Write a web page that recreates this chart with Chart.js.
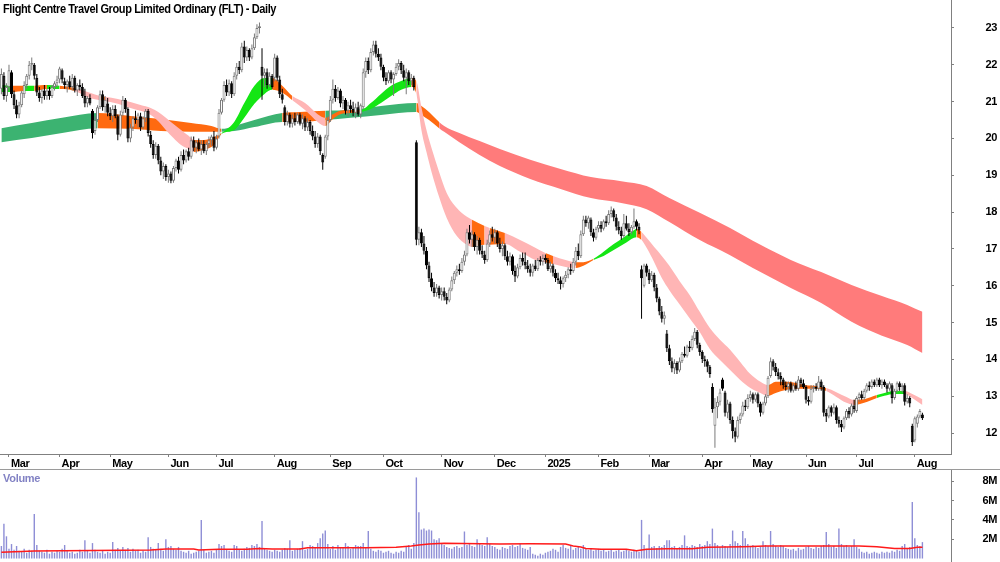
<!DOCTYPE html>
<html>
<head>
<meta charset="utf-8">
<script src="https://cdn.jsdelivr.net/npm/chart.js@4.4.1/dist/chart.umd.min.js"></script>
<style>
  html, body { margin: 0; padding: 0; background: #fff; }
  #wrap { position: relative; width: 1000px; height: 562px; overflow: hidden; font-family: "Liberation Sans", Arial, sans-serif; }
  #priceChart { position: absolute; left: 0; top: 0; }
  #volChart { position: absolute; left: 0; top: 470px; }
  .title { position: absolute; left: 3px; top: 2px; font-weight: bold; font-size: 12px; letter-spacing: -0.45px; color: #000;
           transform: scaleX(0.92); transform-origin: left top; white-space: nowrap; }
  .vlabel { position: absolute; left: 3px; top: 472px; font-weight: bold; font-size: 11px; letter-spacing: -0.3px; color: #8282c4; }
  .sep { position: absolute; left: 0; top: 469px; width: 1000px; height: 1px; background: #9a9a9a; }
</style>
</head>
<body>
<div id="wrap">
  <canvas id="priceChart" width="1000" height="470"></canvas>
  <canvas id="volChart" width="1000" height="92"></canvas>
  <div class="sep"></div>
  <div class="title">Flight Centre Travel Group Limited Ordinary (FLT) - Daily</div>
  <div class="vlabel">Volume</div>
</div>
<script>
// month ticks: index of first trading day of each month
const monthIdx = [3, 23, 43, 66, 85, 108, 130, 151, 174, 195, 215, 236, 256, 277, 296, 318, 338, 361];
const monthLabels = ['Mar', 'Apr', 'May', 'Jun', 'Jul', 'Aug', 'Sep', 'Oct', 'Nov', 'Dec', '2025', 'Feb', 'Mar', 'Apr', 'May', 'Jun', 'Jul', 'Aug'];
const priceTicks = [12, 13, 14, 15, 16, 17, 18, 19, 20, 21, 22, 23];
const volTicks = [2, 4, 6, 8];

// daily candles, 27 Feb 2024 -> early Aug 2025
const opens = [
  21.35,21.70,21.15,21.40,21.80,21.20,20.90,20.65,20.90,21.20,21.45,21.70,22.00,22.00,21.65,21.25,21.10,21.30,21.15,21.30,
  21.15,21.40,21.50,21.60,21.85,21.55,21.45,21.55,21.40,21.65,21.30,21.45,21.40,21.15,20.95,21.10,20.75,20.20,20.50,20.85,
  21.20,20.85,20.95,20.70,20.60,20.80,20.60,20.10,20.70,21.05,20.80,20.00,20.30,20.55,20.50,20.60,20.30,20.55,20.75,20.10,
  19.85,19.55,19.80,19.40,19.10,19.25,18.95,19.05,18.85,19.20,19.40,19.15,19.55,19.40,19.65,19.50,19.95,19.75,19.90,19.70,
  19.85,19.65,19.85,19.95,20.05,19.75,20.05,20.70,21.05,21.45,21.25,21.50,21.20,21.70,21.95,21.85,22.50,22.20,22.40,22.20,
  22.45,22.75,23.00,21.95,21.70,21.80,21.45,21.70,21.65,22.20,21.60,21.20,20.85,20.45,20.65,20.40,20.55,20.45,20.65,20.40,
  20.55,20.30,20.45,20.20,20.05,19.85,20.05,19.55,19.50,20.05,20.50,21.05,21.35,21.10,21.30,20.95,21.05,20.75,20.90,20.80,
  20.70,20.85,20.65,20.85,21.80,22.10,21.85,22.35,22.55,22.30,22.20,21.95,21.65,21.55,21.80,21.60,21.75,21.95,22.05,21.85,
  21.65,21.80,21.55,21.65,19.90,17.25,17.45,17.15,16.95,16.55,16.20,15.95,15.80,15.95,15.75,15.85,15.70,15.60,15.90,16.15,
  16.35,16.45,16.40,16.65,16.85,17.45,17.25,17.40,17.05,17.25,16.95,16.85,16.70,17.15,17.40,17.30,17.45,17.15,17.00,17.10,
  16.80,16.65,16.80,16.40,16.25,16.50,16.75,16.65,16.55,16.45,16.35,16.55,16.45,16.70,16.65,16.75,16.70,16.45,16.55,16.35,
  16.20,16.15,16.05,16.20,16.30,16.45,16.40,16.65,16.95,16.80,17.40,17.80,17.70,17.80,17.45,17.30,17.55,17.65,17.55,17.75,
  17.70,17.95,18.05,17.85,17.60,17.50,17.35,17.70,17.55,17.45,17.60,17.75,17.60,16.45,16.00,16.55,16.35,16.15,16.30,15.95,
  15.65,15.30,15.10,14.70,14.30,13.95,13.75,13.90,13.70,13.95,14.15,14.10,14.35,14.30,14.55,14.75,14.40,14.20,14.00,13.95,
  13.80,13.25,12.20,12.70,12.85,13.45,13.10,12.55,12.80,12.35,12.05,11.90,12.35,12.50,12.75,12.70,12.95,13.05,12.90,13.05,
  12.80,12.55,12.80,13.00,13.55,13.95,13.80,13.65,13.55,13.45,13.30,13.25,13.35,13.15,13.30,13.20,13.45,13.35,13.25,12.90,
  12.85,13.20,13.25,13.20,13.40,13.25,12.55,12.45,12.70,12.55,12.70,12.35,12.25,12.15,12.40,12.60,12.50,12.75,12.60,12.95,
  13.05,12.95,13.15,13.30,13.25,13.40,13.30,13.45,13.30,13.40,13.30,13.20,13.30,12.95,13.15,13.35,13.25,13.30,12.85,12.95,
  12.20,11.80,12.25,12.45,12.50
];
const highs = [
  21.90,21.80,21.50,22.00,21.85,21.30,21.05,21.00,21.30,21.55,21.75,22.10,22.20,22.05,21.75,21.40,21.35,21.45,21.35,21.40,
  21.45,21.55,21.70,21.95,21.90,21.65,21.60,21.70,21.75,21.70,21.50,21.60,21.50,21.35,21.15,21.20,20.80,20.60,20.90,21.30,
  21.30,21.15,21.10,20.85,20.90,20.90,20.65,20.75,21.15,21.10,20.85,20.40,20.60,20.75,20.70,20.70,20.60,20.80,20.80,20.20,
  19.95,19.90,19.85,19.50,19.35,19.30,19.15,19.10,19.25,19.45,19.50,19.65,19.70,19.70,19.75,20.05,20.05,19.95,20.00,19.95,
  19.95,19.90,20.05,20.10,20.20,20.10,20.80,21.10,21.55,21.60,21.60,21.55,21.80,22.05,22.10,22.60,22.65,22.50,22.45,22.55,
  22.85,23.10,23.15,22.45,21.90,21.90,21.80,21.75,22.30,22.25,21.70,21.35,20.90,20.75,20.70,20.65,20.70,20.70,20.70,20.65,
  20.60,20.55,20.50,20.35,20.20,20.15,20.10,19.60,20.10,20.60,21.15,21.60,21.45,21.40,21.35,21.15,21.10,21.00,21.05,21.00,
  20.95,21.00,20.95,21.90,22.20,22.20,22.45,22.65,22.65,22.45,22.30,22.00,21.80,21.85,21.85,21.80,22.05,22.15,22.10,22.00,
  21.90,21.85,21.75,21.70,19.95,17.60,17.55,17.35,17.05,16.65,16.35,16.10,16.05,16.00,15.95,15.95,15.80,15.95,16.25,16.40,
  16.55,16.60,16.75,16.95,17.55,17.65,17.50,17.45,17.35,17.30,17.10,16.95,17.25,17.50,17.60,17.55,17.50,17.30,17.20,17.15,
  16.95,16.90,16.85,16.55,16.60,16.85,16.90,16.90,16.70,16.60,16.60,16.70,16.75,16.80,16.85,16.85,16.75,16.65,16.60,16.45,
  16.35,16.25,16.25,16.40,16.50,16.60,16.75,17.05,17.15,17.50,17.90,17.90,17.90,17.85,17.55,17.60,17.75,17.75,17.80,17.90,
  18.05,18.15,18.10,17.95,17.75,17.60,17.95,17.90,17.70,17.65,18.10,17.80,17.70,16.55,16.60,16.60,16.45,16.40,16.35,16.05,
  15.70,15.45,15.30,14.80,14.40,14.05,14.00,13.95,14.05,14.20,14.35,14.40,14.50,14.65,14.85,14.80,14.45,14.25,14.10,14.00,
  13.85,13.35,12.95,13.00,13.20,13.50,13.15,12.90,12.85,12.45,12.15,12.45,12.55,12.85,12.90,13.05,13.15,13.10,13.10,13.10,
  12.85,12.85,13.05,13.55,14.05,14.00,13.90,13.75,13.65,13.50,13.40,13.40,13.40,13.35,13.40,13.55,13.50,13.45,13.30,13.00,
  13.30,13.30,13.35,13.55,13.45,13.30,12.65,12.75,12.75,12.80,12.75,12.45,12.35,12.45,12.65,12.70,12.80,12.90,13.00,13.10,
  13.15,13.20,13.35,13.40,13.45,13.45,13.50,13.50,13.45,13.45,13.35,13.40,13.35,13.20,13.40,13.40,13.35,13.35,13.05,13.00,
  12.25,12.45,12.50,12.65,12.55
];
const lows = [
  21.20,21.05,21.00,21.30,21.10,20.80,20.55,20.55,20.85,21.10,21.35,21.60,21.85,21.60,21.15,21.00,20.95,21.05,21.05,21.05,
  21.10,21.30,21.40,21.50,21.50,21.35,21.25,21.35,21.30,21.25,21.15,21.30,21.10,20.85,20.85,20.90,20.00,20.10,20.45,20.80,
  20.75,20.70,20.60,20.50,20.45,20.55,19.95,20.05,20.60,20.70,19.90,19.90,20.20,20.40,20.30,20.20,20.25,20.45,20.05,19.75,
  19.45,19.45,19.30,19.00,18.90,18.85,18.80,18.78,18.80,19.10,19.05,19.10,19.30,19.35,19.40,19.45,19.65,19.60,19.65,19.55,
  19.60,19.55,19.75,19.80,19.65,19.70,20.00,20.65,21.00,21.15,21.15,21.10,21.15,21.60,21.75,21.80,22.05,22.10,22.10,22.15,
  22.40,22.70,22.85,21.05,21.40,21.35,21.40,21.35,21.55,21.55,21.10,20.95,20.35,20.35,20.30,20.30,20.35,20.40,20.35,20.25,
  20.20,20.20,20.10,19.95,19.75,19.75,19.55,19.15,19.45,19.95,20.45,20.95,21.00,21.05,20.85,20.80,20.65,20.60,20.70,20.60,
  20.55,20.60,20.55,20.80,21.65,21.75,21.80,22.25,22.20,22.10,21.85,21.55,21.45,21.50,21.50,21.15,21.70,21.85,21.75,21.55,
  21.20,21.45,21.45,21.30,17.10,17.10,17.05,16.85,16.45,16.10,15.85,15.70,15.70,15.65,15.60,15.60,15.50,15.55,15.85,16.05,
  16.25,16.30,16.35,16.55,16.80,17.15,17.05,16.95,16.85,16.85,16.75,16.60,16.65,17.05,17.20,17.15,17.05,16.90,16.80,16.70,
  16.55,16.55,16.30,16.10,16.20,16.45,16.55,16.45,16.35,16.25,16.25,16.40,16.40,16.55,16.55,16.60,16.40,16.35,16.25,16.10,
  16.05,15.90,15.95,16.10,16.20,16.30,16.35,16.55,16.70,16.75,17.35,17.60,17.55,17.35,17.20,17.25,17.45,17.45,17.50,17.60,
  17.65,17.85,17.75,17.50,17.40,17.25,17.30,17.50,17.35,17.40,17.55,17.50,17.40,15.10,15.95,16.25,16.05,16.10,15.85,15.55,
  15.20,15.00,14.95,14.20,13.85,13.65,13.60,13.60,13.65,13.90,14.05,14.05,14.20,14.25,14.50,14.30,14.10,13.90,13.80,13.65,
  13.50,12.55,11.60,12.40,12.75,13.15,12.45,12.40,12.25,11.85,11.75,11.85,12.25,12.45,12.60,12.65,12.85,12.80,12.85,12.70,
  12.45,12.50,12.75,12.95,13.50,13.70,13.55,13.45,13.30,13.20,13.15,13.10,13.10,13.10,13.15,13.15,13.25,13.20,12.80,12.75,
  12.80,13.10,13.15,13.15,13.15,12.45,12.30,12.40,12.45,12.50,12.25,12.15,12.03,12.10,12.35,12.40,12.45,12.55,12.55,12.85,
  12.90,12.90,13.10,13.15,13.20,13.25,13.25,13.25,13.20,13.25,13.10,13.15,12.80,12.90,13.10,13.15,13.10,12.75,12.80,12.70,
  11.65,11.75,12.15,12.40,12.35
];
const closes = [
  21.75,21.15,21.40,21.85,21.20,20.90,20.65,20.90,21.25,21.45,21.70,22.00,22.05,21.70,21.25,21.10,21.30,21.15,21.30,21.15,
  21.40,21.50,21.60,21.90,21.60,21.45,21.55,21.40,21.65,21.30,21.45,21.40,21.15,20.95,21.10,20.95,20.15,20.50,20.85,21.20,
  20.85,21.05,20.70,20.60,20.80,20.60,20.10,20.65,21.05,20.80,20.00,20.30,20.55,20.50,20.65,20.30,20.55,20.75,20.15,19.85,
  19.55,19.80,19.40,19.10,19.25,18.95,19.05,18.85,19.20,19.40,19.15,19.55,19.40,19.65,19.50,19.95,19.75,19.90,19.70,19.85,
  19.65,19.85,19.95,20.05,19.75,20.00,20.70,21.05,21.45,21.25,21.50,21.20,21.70,21.95,21.85,22.50,22.20,22.40,22.20,22.45,
  22.75,23.00,23.05,21.70,21.80,21.45,21.70,21.40,22.20,21.65,21.20,21.05,20.45,20.65,20.40,20.55,20.45,20.65,20.40,20.55,
  20.30,20.45,20.20,20.05,19.85,20.05,19.65,19.35,20.05,20.50,21.05,21.35,21.10,21.30,20.95,21.05,20.75,20.90,20.80,20.70,
  20.85,20.65,20.90,21.80,22.10,21.85,22.35,22.55,22.30,22.20,21.95,21.65,21.55,21.80,21.60,21.75,21.95,22.05,21.85,21.65,
  21.80,21.55,21.65,21.40,17.25,17.45,17.15,16.95,16.55,16.20,15.95,15.80,15.95,15.75,15.85,15.70,15.60,15.90,16.15,16.35,
  16.45,16.40,16.65,16.85,17.45,17.25,17.40,17.05,17.25,16.95,16.85,16.70,17.15,17.40,17.30,17.45,17.15,17.00,17.10,16.80,
  16.65,16.80,16.40,16.25,16.50,16.75,16.65,16.55,16.45,16.35,16.55,16.45,16.70,16.65,16.75,16.70,16.45,16.55,16.35,16.20,
  16.15,16.05,16.20,16.30,16.45,16.40,16.65,16.95,16.80,17.40,17.80,17.70,17.85,17.45,17.30,17.55,17.65,17.55,17.75,17.70,
  17.95,18.05,17.85,17.60,17.50,17.35,17.70,17.55,17.45,17.60,17.75,17.60,17.50,16.20,16.55,16.35,16.15,16.30,15.95,15.65,
  15.30,15.10,15.20,14.30,13.95,13.75,13.90,13.70,13.95,14.15,14.10,14.35,14.30,14.55,14.75,14.40,14.20,14.00,13.95,13.80,
  13.60,12.65,12.70,12.85,13.10,13.20,12.55,12.80,12.35,12.05,11.90,12.35,12.50,12.75,12.70,12.95,13.05,12.90,13.05,12.80,
  12.55,12.80,13.00,13.50,13.95,13.80,13.65,13.55,13.45,13.30,13.25,13.35,13.15,13.30,13.20,13.45,13.35,13.25,12.90,12.85,
  13.20,13.25,13.20,13.40,13.25,12.55,12.45,12.70,12.55,12.70,12.35,12.25,12.15,12.40,12.60,12.50,12.75,12.65,12.95,13.05,
  12.95,13.15,13.30,13.25,13.40,13.30,13.45,13.30,13.40,13.30,13.20,13.35,12.95,13.15,13.35,13.25,13.30,12.85,12.95,12.80,
  11.75,12.40,12.45,12.60,12.40
];
// volume, millions of shares
const volumes = [
  1.3,3.6,2.3,1.0,1.5,0.9,1.3,0.8,0.7,1.0, 0.6,0.9,0.8,4.6,1.4,0.8,0.7,0.6,0.9,0.5,
  0.7,0.6,0.8,0.7,1.0,1.4,0.8,0.6,0.7,0.5, 0.6,0.9,0.7,1.9,0.8,0.6,1.6,0.9,0.7,0.6,
  0.8,0.5,0.7,0.6,1.7,0.9,1.1,0.8,1.2,0.9, 1.1,0.7,1.0,0.8,0.9,0.6,0.8,0.7,2.2,1.2,
  1.0,0.9,1.6,1.0,0.8,2.0,1.2,1.3,1.0,0.9, 1.2,0.8,0.7,0.6,0.8,0.5,0.6,0.7,0.8,4.0,
  0.9,0.6,0.7,0.8,0.6,0.9,1.5,1.3,1.4,0.9, 0.8,0.7,1.4,1.3,0.9,0.8,1.0,1.2,1.1,1.4,
  1.3,1.5,1.2,3.9,1.0,0.9,0.8,0.7,0.9,0.8, 0.7,0.9,1.1,1.0,1.9,0.8,0.9,1.0,1.1,1.8,
  0.9,1.0,1.4,1.3,1.2,1.6,2.1,2.6,2.9,1.5, 1.0,1.3,0.9,1.4,1.1,1.2,1.6,1.3,1.0,1.1,
  1.4,1.3,1.3,1.6,1.2,2.85,1.0,0.8,0.7,0.9, 0.8,0.6,0.7,0.8,0.6,0.5,0.7,0.6,0.8,0.7,
  1.3,1.4,1.0,1.6,8.4,4.8,3.0,3.1,2.9,3.0, 2.9,2.0,1.9,2.1,1.5,1.4,1.2,1.1,1.0,1.2,
  1.3,1.1,1.2,2.8,1.4,1.5,1.3,1.2,2.0,1.6, 1.4,1.3,2.2,1.5,1.3,1.2,1.0,0.9,1.2,1.1,
  1.0,1.3,1.4,1.2,1.3,1.5,1.1,1.0,0.9,1.2, 0.5,0.4,0.3,0.5,0.4,0.6,0.7,0.8,1.0,0.9,
  0.7,1.2,1.4,1.1,1.0,1.3,0.9,1.1,1.2,1.0, 1.4,1.1,0.9,1.0,0.8,0.9,1.0,0.8,0.9,0.7,
  0.8,0.9,0.7,0.8,0.9,0.7,0.8,0.9,0.8,0.7, 0.9,0.8,0.7,4.0,1.4,1.0,2.5,1.2,1.3,1.1,
  1.3,1.2,1.4,1.9,1.9,1.2,1.3,1.1,1.2,1.4, 2.4,1.3,1.2,1.4,1.3,1.2,1.5,1.3,1.4,1.8,
  1.5,3.1,1.6,1.4,1.2,1.4,1.3,1.2,1.5,2.9, 1.8,1.6,1.4,2.85,2.1,1.5,1.2,1.4,1.3,1.1,
  1.2,1.8,1.4,1.3,2.85,1.5,1.3,1.2,1.4,1.3, 1.1,1.0,0.9,1.0,0.8,1.1,0.9,1.0,1.2,1.3,
  1.1,1.0,1.2,1.1,1.3,1.4,2.75,1.5,1.2,1.3, 1.1,3.1,1.5,1.3,1.4,1.2,1.3,2.0,1.2,1.0,
  0.7,0.6,0.7,0.5,0.6,0.7,0.6,0.5,0.7,0.6, 0.7,0.6,0.8,0.7,0.9,0.8,1.3,1.5,1.1,1.2,
  5.85,2.1,1.4,1.3,1.7
];
const volMaIdx = [0,13,59,65,76,78,86,97,102,107,118,121,144,156,162,165,169,175,197,209,223,226,229,231,237,247,251,255,263,273,279,293,302,339,346,353,359,362,364];
const volMa = [0.64,0.78,0.88,0.98,0.98,0.88,0.95,0.95,1.05,0.98,0.98,1.12,1.12,1.16,1.3,1.4,1.5,1.57,1.5,1.52,1.5,1.3,1.2,1.05,0.95,0.95,0.81,0.95,1.02,1.02,1.16,1.23,1.3,1.3,1.23,1.05,1.05,1.16,1.16];

// short-term trend ribbon (two averages), sampled; trend: u = up, m = mixed, d = down
const shortIdx = [0,4,9,13,18,23,29,35,39,41,46,51,55,59,62,65,68,71,74,76,80,84,87,92,96,100,104,107,111,115,
  120,125,128,131,134,138,142,146,150,154,158,162,164,166,168,170,173,176,180,184,186,191,193,199,205,211,215,218,223,227,
  230,234,238,242,246,250,251,253,255,258,261,264,268,272,276,280,284,288,292,296,300,303,306,310,314,318,322,326,330,334,
  337,341,346,349,353,357,360,364];
const shortA = [21.45,21.43,21.43,21.43,21.45,21.43,21.37,21.24,21.15,21.13,21.07,20.99,20.91,20.83,20.72,20.56,20.39,20.23,20.07,19.96,
  19.96,20.04,20.15,20.45,20.96,21.43,21.64,21.64,21.43,21.15,20.96,20.66,20.56,20.66,20.75,20.77,20.77,20.96,21.21,21.43,
  21.56,21.64,21.56,20.85,20.23,19.74,19.09,18.52,18.11,17.87,17.79,17.62,17.57,17.43,17.24,17.03,16.89,16.81,16.70,16.64,
  16.64,16.73,16.92,17.13,17.32,17.51,17.54,17.46,17.30,17.05,16.81,16.54,16.13,15.75,15.29,14.85,14.53,14.26,13.93,13.60,
  13.39,13.30,13.39,13.39,13.36,13.30,13.28,13.22,13.11,12.98,12.90,12.92,13.03,13.09,13.14,13.14,13.06,12.92];
const shortB = [21.26,21.26,21.29,21.29,21.34,21.34,21.29,21.10,21.04,21.02,20.94,20.83,20.75,20.64,20.47,20.23,20.01,19.82,19.71,19.63,
  19.69,19.82,20.12,20.23,20.56,20.94,21.21,21.32,21.24,21.04,20.77,20.45,20.34,20.53,20.66,20.69,20.72,20.80,20.96,21.15,
  21.32,21.40,21.21,20.23,19.63,19.09,18.41,17.84,17.35,17.11,17.05,17.11,17.11,17.13,16.92,16.70,16.64,16.59,16.51,16.48,
  16.54,16.70,16.81,16.97,17.13,17.30,17.32,17.24,17.03,16.64,16.21,15.88,15.50,15.12,14.74,14.28,13.98,13.71,13.44,13.22,
  13.09,13.01,13.09,13.17,13.20,13.20,13.20,13.14,12.98,12.82,12.76,12.82,12.95,13.01,13.06,13.06,12.95,12.76];
const shortTrend = ('umumumddmd' + 'dddddddddm' + 'mmuuuuummd' + 'ddmmmmuuuu' + 'umdddddddd' +
  'mdmdddmddm' + 'muuuuumddd' + 'dddddddddd' + 'dmmmmmmddd' + 'mmuuuddd').split('');

// long-term trend ribbon
const longIdx = [0,12,24,38,51,63,75,83,87,92,100,111,118,128,138,150,164,166,169,173,175,181,189,197,209,221,233,245,255,264,276,288,300,312,324,336,348,358,364];
const longA = [20.28,20.42,20.56,20.69,20.61,20.53,20.42,20.34,20.26,20.34,20.50,20.69,20.72,20.75,20.77,20.88,20.96,20.88,20.72,20.45,
  20.34,20.15,19.93,19.71,19.42,19.17,18.95,18.84,18.71,18.38,17.98,17.57,17.11,16.70,16.37,16.02,15.72,15.48,15.29];
const longB = [19.90,20.01,20.15,20.28,20.26,20.20,20.18,20.18,20.18,20.20,20.31,20.45,20.45,20.50,20.56,20.64,20.72,20.64,20.50,20.28,
  20.18,19.90,19.55,19.25,18.90,18.63,18.38,18.25,18.08,17.73,17.24,16.83,16.37,15.94,15.53,15.02,14.64,14.39,14.17];
const longTrend = ('uuummmmmuu' + 'ummuuummmd' + 'ddddddddddddddddddd').split('');

const FONT = '"Liberation Sans", Arial, sans-serif';
Chart.defaults.font.family = FONT;
Chart.defaults.animation = false;

const shortFill = { u: '#14e614', m: '#ff6a10', d: '#ffb5b5' };
const longFill = { u: '#3cb371', m: '#ff6a10', d: '#ff7b7b' };
const tickFont = { family: FONT, size: 11, weight: 'bold' };

const tight = { id: 'tight', beforeDraw(chart) { chart.ctx.letterSpacing = '-0.4px'; } };

const pts = (idx, vals) => idx.map((v, k) => ({ x: v, y: vals[k] }));

function ribbon(idx, a, b, trend, palette, order) {
  const common = { type: 'line', borderColor: 'rgba(0,0,0,0)', borderWidth: 0, pointRadius: 0,
    cubicInterpolationMode: 'monotone', order: order };
  return [
    Object.assign({ data: pts(idx, a), fill: false }, common),
    Object.assign({ data: pts(idx, b), fill: '-1', backgroundColor: palette[trend[0]],
      segment: { backgroundColor: c => palette[trend[c.p0DataIndex]] } }, common)
  ];
}

const isUp = closes.map((c, i) => c >= opens[i]);

const xScale = {
  type: 'linear', min: -0.55, max: 375.3, offset: false,
  grid: { drawOnChartArea: false, tickLength: 3, color: '#808080', offset: false },
  border: { display: true, color: '#808080' },
  afterBuildTicks: s => { s.ticks = monthIdx.map(v => ({ value: v })); },
  afterFit: s => { s.height = 16; s.paddingLeft = 0; s.paddingRight = 0; },
  ticks: { autoSkip: false, maxRotation: 0, align: 'start', labelOffset: 2, padding: 0,
    color: '#000', font: tickFont, callback: (v, i) => monthLabels[i] }
};

new Chart(document.getElementById('priceChart'), {
  type: 'line',
  data: {
    datasets: [
      ...ribbon(longIdx, longA, longB, longTrend, longFill, 4),
      ...ribbon(shortIdx, shortA, shortB, shortTrend, shortFill, 3),
      { type: 'bar', order: 2, grouped: false, barThickness: 1, inflateAmount: 0,
        data: highs.map((h, i) => ({ x: i, y: [lows[i], h] })),
        backgroundColor: isUp.map(u => u ? '#7a7a7a' : '#000') },
      { type: 'bar', order: 1, grouped: false, barThickness: 3, inflateAmount: 0, borderSkipped: false,
        data: opens.map((o, i) => ({ x: i, y: [o, closes[i]] })),
        backgroundColor: isUp.map(u => u ? '#fff' : '#000'),
        borderColor: isUp.map(u => u ? '#7a7a7a' : '#000'), borderWidth: 1 }
    ]
  },
  options: {
    responsive: false,
    devicePixelRatio: 1,
    layout: { padding: { left: 0, right: 3, top: 0, bottom: 0 } },
    plugins: { legend: { display: false }, tooltip: { enabled: false } },
    events: [],
    scales: {
      x: xScale,
      y: {
        position: 'right', min: 11.43, max: 23.76,
        afterBuildTicks: s => { s.ticks = priceTicks.map(v => ({ value: v })); },
        afterFit: s => { s.width = 46; s.paddingTop = 0; s.paddingBottom = 0; },
        grid: { drawOnChartArea: false, tickLength: 3, color: '#808080' },
        border: { display: true, color: '#808080' },
        ticks: { crossAlign: 'far', padding: 0, color: '#000', font: tickFont }
      }
    }
  },
  plugins: [tight]
});

new Chart(document.getElementById('volChart'), {
  type: 'line',
  data: {
    datasets: [
      { type: 'bar', order: 2, grouped: false, barThickness: 1.4, inflateAmount: 0,
        data: volumes.map((v, i) => ({ x: i, y: v })), backgroundColor: '#8e8ed6' },
      { type: 'line', order: 1, data: pts(volMaIdx, volMa), borderColor: '#ff1a1a',
        borderWidth: 1.5, pointRadius: 0, tension: 0, fill: false }
    ]
  },
  options: {
    responsive: false,
    devicePixelRatio: 1,
    layout: { padding: { left: 0, right: 3, top: 0, bottom: 0 } },
    plugins: { legend: { display: false }, tooltip: { enabled: false } },
    events: [],
    scales: {
      x: { type: 'linear', min: -0.55, max: 375.3, offset: false, display: false },
      y: {
        position: 'right', min: -0.36, max: 9.17,
        afterBuildTicks: s => { s.ticks = volTicks.map(v => ({ value: v })); },
        afterFit: s => { s.width = 46; s.paddingTop = 0; s.paddingBottom = 0; },
        grid: { drawOnChartArea: false, tickLength: 3, color: '#808080' },
        border: { display: true, color: '#808080' },
        ticks: { crossAlign: 'far', padding: 0, color: '#000', font: tickFont, callback: v => v + 'M' }
      }
    }
  },
  plugins: [tight]
});
</script>
</body>
</html>
